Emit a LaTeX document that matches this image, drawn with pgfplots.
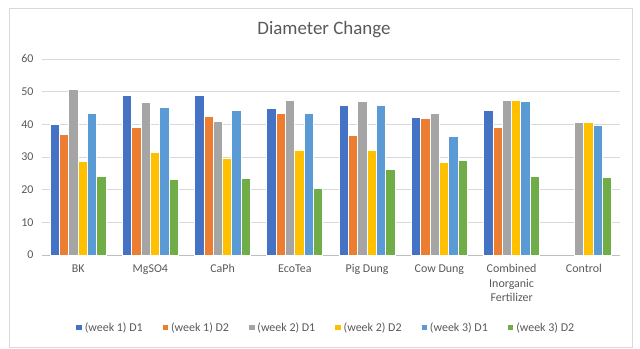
\documentclass[border=0pt]{standalone}
\usepackage{fontspec}
\setmainfont{Carlito}
\usepackage{pgfplots}
\pgfplotsset{compat=1.18}
\definecolor{cA}{HTML}{4472C4}
\definecolor{cB}{HTML}{ED7D31}
\definecolor{cC}{HTML}{A5A5A5}
\definecolor{cD}{HTML}{FFC000}
\definecolor{cE}{HTML}{5B9BD5}
\definecolor{cF}{HTML}{70AD47}
\definecolor{txt}{HTML}{595959}
\definecolor{gridc}{HTML}{D9D9D9}
\definecolor{axc}{HTML}{BFBFBF}
\begin{document}
\begin{tikzpicture}
\path[use as bounding box] (0,0) rectangle (640bp,349bp);
\draw[gridc, line width=0.8bp] (9bp,2bp) rectangle (632bp,341bp);
\node[text=txt, font=\fontsize{19}{22}\selectfont] at (324bp,319bp) {Diameter Change};
\begin{axis}[
  at={(42bp,94bp)}, anchor=south west,
  scale only axis, width=578bp, height=196bp,
  xmin=-0.5, xmax=7.5, ymin=0, ymax=60,
  ytick={0,10,...,60},
  xtick={0,...,7},
  xticklabels={BK,MgSO4,CaPh,EcoTea,Pig Dung,Cow Dung,{Combined\\Inorganic\\Fertilizer},Control},
  ymajorgrids, grid style={gridc, line width=0.8bp},
  axis lines*=left,
  y axis line style={draw=none},
  x axis line style={axc, line width=0.8bp, -},
  major tick length=0pt,
  tick label style={text=txt, font=\fontsize{12}{14.5}\selectfont},
  yticklabel style={xshift=-5bp},
  xticklabel style={align=center, yshift=-6bp},
  /pgf/number format/assume math mode=true,
  ybar=0pt, bar width=0.129,
  every axis plot/.append style={draw=white, line width=0.9bp},
  legend columns=6,
  legend style={at={(0.491,-0.372)}, anchor=center, draw=none, fill=none,
    font=\fontsize{12}{14}\selectfont, text=txt,
    /tikz/every even column/.append style={column sep=17bp}},
  legend image code/.code={\fill[#1] (0bp,-3bp) rectangle (6.5bp,3.5bp);},
]
\addplot[fill=cA] coordinates {(0,40.1) (1,48.7) (2,48.9) (3,45.0) (4,45.8) (5,42.2) (6,44.3)};
\addplot[fill=cB] coordinates {(0,37.0) (1,39.1) (2,42.4) (3,43.2) (4,36.6) (5,41.7) (6,39.1)};
\addplot[fill=cC] coordinates {(0,50.7) (1,46.8) (2,40.9) (3,47.3) (4,46.9) (5,43.4) (6,47.3) (7,40.5)};
\addplot[fill=cD] coordinates {(0,28.7) (1,31.5) (2,29.7) (3,32.1) (4,31.9) (5,28.4) (6,47.3) (7,40.5)};
\addplot[fill=cE] coordinates {(0,43.2) (1,45.2) (2,44.1) (3,43.4) (4,45.8) (5,36.2) (6,46.9) (7,39.6)};
\addplot[fill=cF] coordinates {(0,23.9) (1,23.2) (2,23.4) (3,20.5) (4,26.3) (5,28.9) (6,24.1) (7,23.8)};
\legend{(week 1) D1,(week 1) D2,(week 2) D1,(week 2) D2,(week 3) D1,(week 3) D2}
\end{axis}
\end{tikzpicture}
\end{document}
